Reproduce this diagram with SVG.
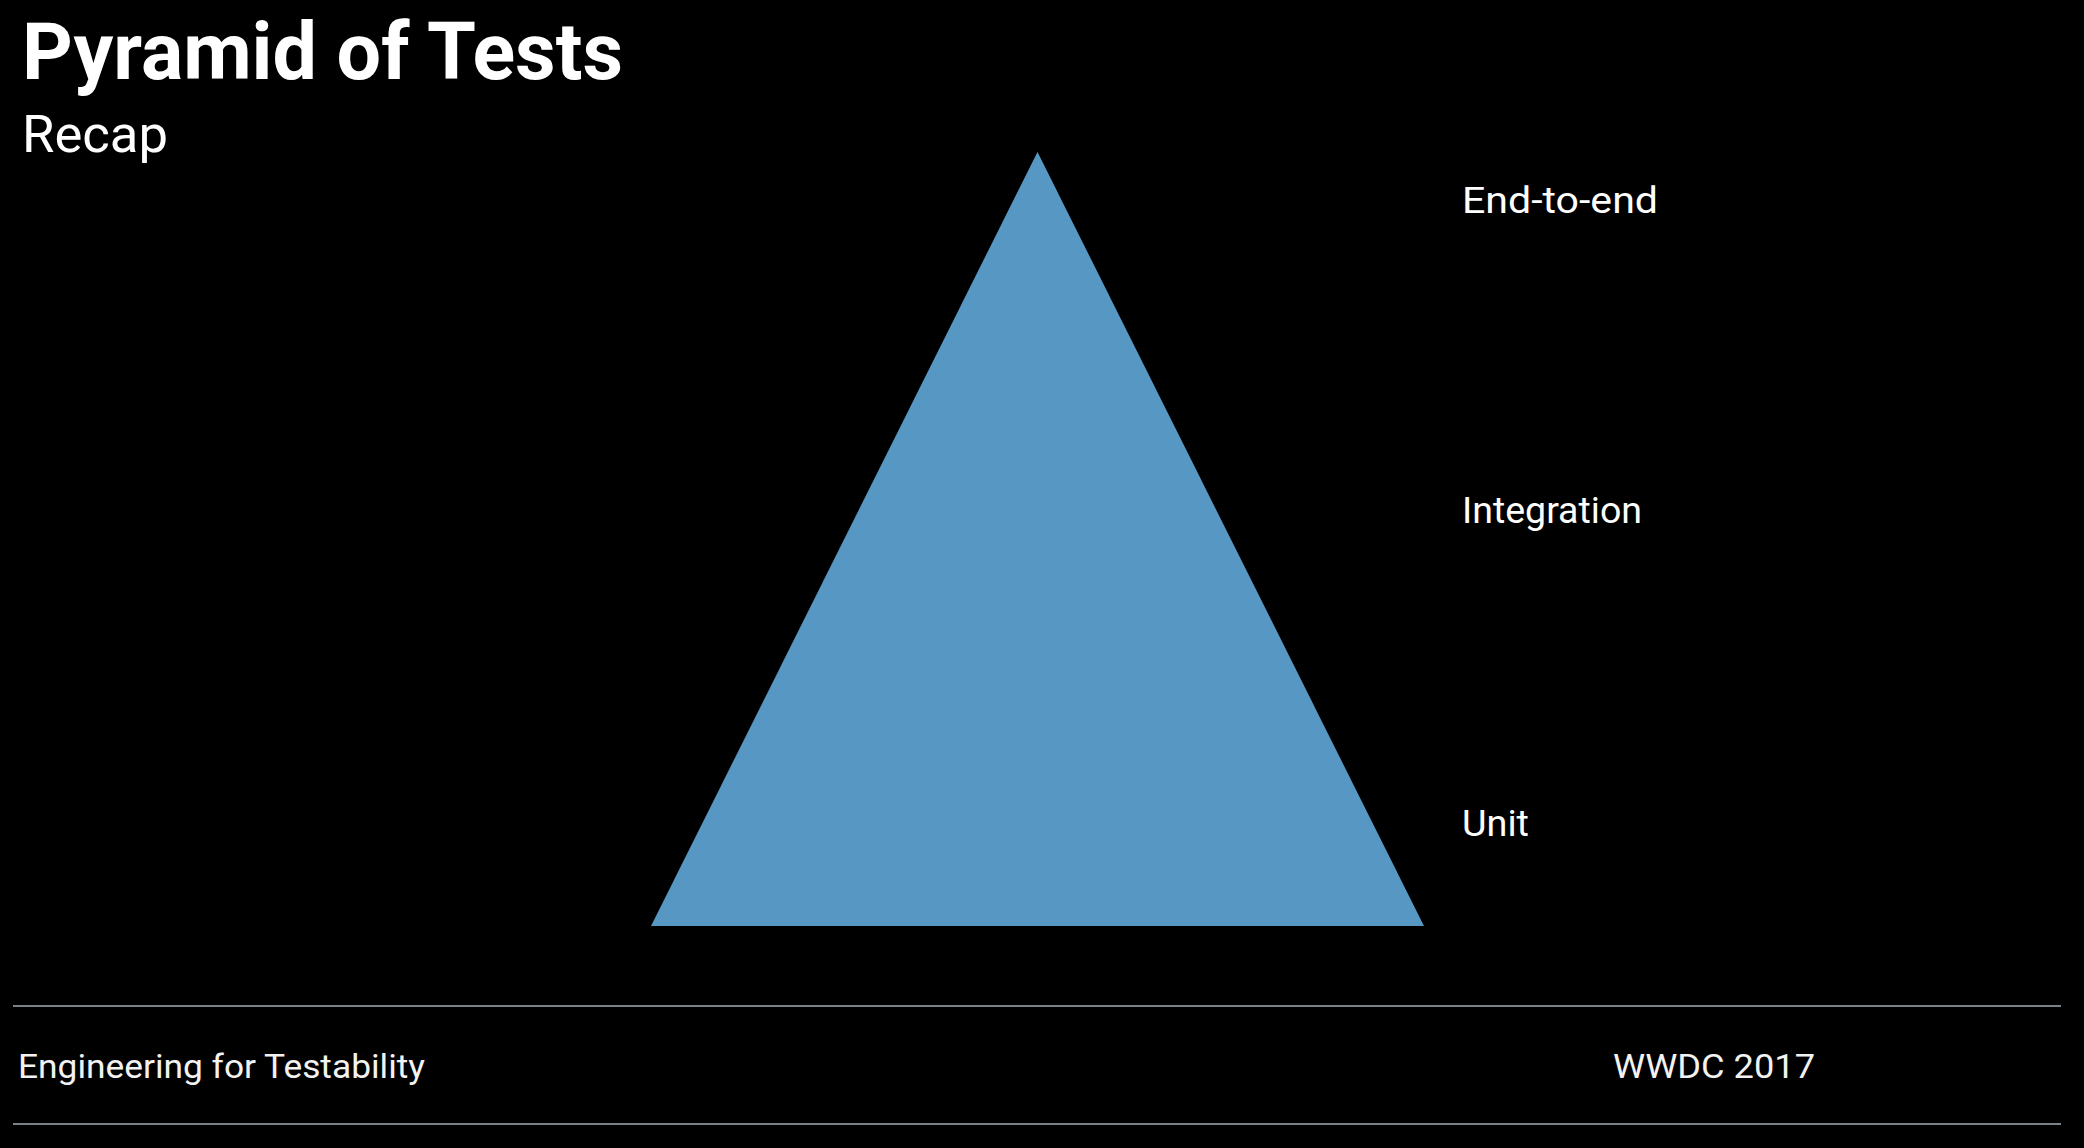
<svg xmlns="http://www.w3.org/2000/svg" width="2084" height="1148" viewBox="0 0 2084 1148">
<style>
text{font-family:Roboto,"Liberation Sans",Arial,sans-serif;fill:#ffffff}
.lbl{font-size:37px}
.foot{font-size:33px;fill:#f2f2f2}
.rule{stroke:#7b8087;stroke-width:2}
</style>
<rect width="2084" height="1148" fill="#000"/>
<g id="title">
<text x="22" y="79" font-size="79" font-weight="bold" textLength="601" lengthAdjust="spacingAndGlyphs">Pyramid of Tests</text>
<text x="22" y="152" font-size="52" textLength="146" lengthAdjust="spacingAndGlyphs">Recap</text>
</g>
<g id="pyramid">
<polygon points="1037.5,152 651,926 1424,926" fill="#5698c3"/>
</g>
<g id="label-e2e"><text class="lbl" x="1462" y="213" textLength="196" lengthAdjust="spacingAndGlyphs">End-to-end</text></g>
<g id="label-integration"><text class="lbl" x="1462" y="523" textLength="180" lengthAdjust="spacingAndGlyphs">Integration</text></g>
<g id="label-unit"><text class="lbl" x="1462" y="836" textLength="67" lengthAdjust="spacingAndGlyphs">Unit</text></g>
<g id="footer">
<line class="rule" x1="13" y1="1006" x2="2061" y2="1006"/>
<line class="rule" x1="13" y1="1124" x2="2061" y2="1124"/>
<text class="foot" x="18" y="1078" textLength="407" lengthAdjust="spacingAndGlyphs">Engineering for Testability</text>
<text class="foot" x="1613" y="1078" textLength="202" lengthAdjust="spacingAndGlyphs">WWDC 2017</text>
</g>
</svg>
